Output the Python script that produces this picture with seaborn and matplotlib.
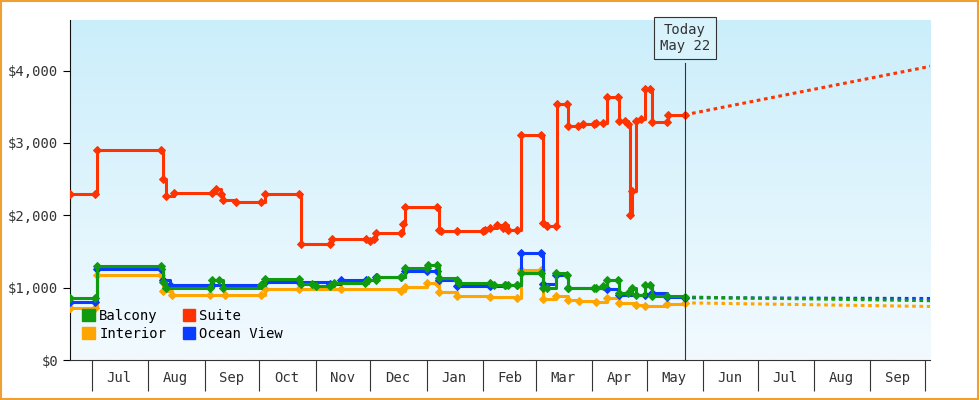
import matplotlib
matplotlib.use("Agg")
import matplotlib.pyplot as plt
import matplotlib.dates as mdates
import matplotlib.ticker as mticker
from matplotlib.patches import Rectangle, Patch
from matplotlib.colors import LinearSegmentedColormap
import numpy as np
import pandas as pd
import seaborn as sns

BASE = pd.Timestamp("2023-07-01")
TODAY = pd.Timestamp("2024-05-22")
END = pd.Timestamp("2024-10-04")

suite_days = [-12,2,3,38,39,41,45,66,68,71,72,79,93,95,114,115,131,132,151,153,155,156,170,171,172,190,191,192,201,215,216,219,223,226,227,229,234,236,247,248,250,255,256,261,262,267,270,276,277,281,283,289,290,293,295,296,297,299,302,304,307,308,316,317,326]
suite_vals = [2300,2300,2900,2900,2500,2270,2310,2310,2370,2300,2210,2180,2180,2300,2300,1600,1600,1670,1670,1640,1670,1760,1760,1880,2120,2120,1800,1790,1780,1780,1800,1830,1860,1830,1860,1800,1800,3110,3110,1900,1850,1850,3540,3540,3240,3240,3260,3260,3280,3280,3640,3640,3310,3300,3260,2000,2340,3300,3330,3740,3740,3290,3290,3390,3390]
balcony_days = [-12,2,3,38,39,41,65,66,70,72,93,95,114,115,121,123,131,133,150,152,156,157,170,172,184,185,190,191,201,202,219,221,227,229,234,236,247,248,250,255,261,262,276,277,281,283,289,290,295,297,299,304,307,308,316,326]
balcony_vals = [860,860,1300,1300,1080,1000,1000,1100,1100,1000,1030,1120,1120,1050,1050,1020,1020,1070,1070,1100,1100,1150,1150,1270,1270,1310,1310,1140,1110,1060,1060,1040,1040,1030,1030,1200,1200,1000,1000,1200,1180,1000,1000,1000,1020,1100,1100,930,930,1000,900,1030,1030,880,880,870]
ocean_days = [-12,2,3,38,39,43,66,93,95,114,131,137,151,156,170,172,184,190,191,201,219,227,234,236,247,248,255,262,283,290,304,308,316,326]
ocean_vals = [800,800,1260,1260,1100,1040,1040,1040,1080,1080,1050,1100,1100,1150,1150,1230,1230,1230,1110,1020,1020,1040,1040,1480,1480,1050,1170,1000,980,900,900,930,870,860]
interior_days = [-12,2,3,38,39,44,65,73,93,95,114,137,170,172,184,190,191,201,219,234,236,247,248,255,262,268,277,283,290,299,304,316,326]
interior_vals = [720,720,1170,1170,950,900,900,900,900,980,980,980,950,1010,1070,1070,940,890,870,860,1240,1240,850,880,830,810,800,860,790,760,740,770,790]
proj_end = {"Suite": 4060, "Balcony": 820, "Ocean View": 850, "Interior": 740}
series = [("Interior", interior_days, interior_vals, "#ffa500"),
          ("Ocean View", ocean_days, ocean_vals, "#0a3cff"),
          ("Balcony", balcony_days, balcony_vals, "#109a10"),
          ("Suite", suite_days, suite_vals, "#ff3300")]
month_labels = ["Jul","Aug","Sep","Oct","Nov","Dec","Jan","Feb","Mar","Apr","May","Jun","Jul","Aug","Sep"]

plt.rcParams["font.family"] = "DejaVu Sans Mono"
fig = plt.figure(figsize=(9.8, 4), dpi=100)
fig.patches.append(Rectangle((0.001, 0.002), 0.997, 0.995, transform=fig.transFigure,
                             fill=False, edgecolor="#f0a030", lw=1.5))
ax = fig.add_axes([0.0714, 0.1, 0.878, 0.85])
start = BASE + pd.Timedelta(days=-12)
x0, x1 = mdates.date2num(start), mdates.date2num(END)
grad = np.linspace(0, 1, 256).reshape(-1, 1)
cm = LinearSegmentedColormap.from_list("g", ["#cbeefb", "#f2faff"])
ax.imshow(grad, aspect="auto", cmap=cm, extent=(x0, x1, 0, 4700), origin="upper", zorder=0)

for name, d, v, c in series:
    df = pd.DataFrame({"date": [BASE + pd.Timedelta(days=i) for i in d], "val": v})
    sns.lineplot(data=df, x="date", y="val", ax=ax, color=c, lw=2.2, drawstyle="steps-post",
                 marker="D", markersize=4.5, markeredgecolor=c, zorder=3)
    ax.plot([TODAY, END], [v[-1], proj_end[name]], ls=(0, (1.2, 1.2)), color=c, lw=2.2, zorder=2)

ax.set_xlim(x0, x1)
ax.set_ylim(0, 4700)
ax.axvline(TODAY, ymin=0, ymax=4100 / 4700, color="#333", lw=0.8, zorder=4)
ax.text(TODAY, 4450, "Today\nMay 22", ha="center", va="center", fontsize=10, color="#333",
        bbox=dict(boxstyle="square,pad=0.4", fc="#d8f3fc", ec="#333", lw=0.8), zorder=5)

ax.yaxis.set_major_locator(mticker.MultipleLocator(1000))
ax.yaxis.set_major_formatter(mticker.FuncFormatter(lambda v, p: f"${v:,.0f}"))
months = pd.date_range("2023-07-01", "2024-10-01", freq="MS")
mids = [m + pd.Timedelta(days=15) for m in months[:-1]]
ax.set_xticks(mdates.date2num(months))
ax.set_xticklabels([])
ax.set_xticks(mdates.date2num(mids), minor=True)
ax.set_xticklabels(month_labels, minor=True)
ax.tick_params(axis="x", which="major", length=22, width=0.8, color="#333")
ax.tick_params(axis="x", which="minor", length=0, pad=8, labelsize=10, labelcolor="#333")
ax.tick_params(axis="y", length=5, labelsize=10, labelcolor="#333")
for s in ["top", "right"]:
    ax.spines[s].set_visible(False)
ax.spines["left"].set_color("#111")
ax.spines["bottom"].set_color("#333")
ax.set_xlabel(""); ax.set_ylabel("")

order = ["Balcony", "Interior", "Suite", "Ocean View"]
cols = {n: c for n, _, _, c in series}
handles = [Patch(color=cols[n], label=n) for n in order]
ax.legend(handles=handles, ncol=2, loc="lower left", bbox_to_anchor=(0.0, 0.02), frameon=False,
          fontsize=10, handlelength=0.9, handleheight=0.9, handletextpad=0.3, columnspacing=1.2,
          labelspacing=0.3)
fig.savefig("out.png", dpi=100)
